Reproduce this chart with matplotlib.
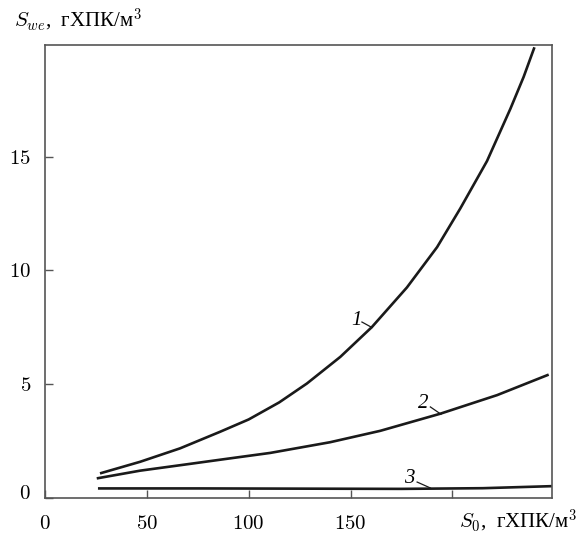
import numpy as np
import matplotlib
matplotlib.use("Agg")
import matplotlib.pyplot as plt
from matplotlib.transforms import ScaledTranslation

plt.rcParams['mathtext.fontset'] = 'cm'
plt.rcParams['font.family'] = ['Liberation Serif', 'DejaVu Serif']

# curve 1
x1 = [27, 46.7, 66.3, 86, 100, 115, 128.6, 145, 160.5, 177.7, 192.5, 203.9, 217, 228.5, 235, 240.3]
y1 = [1.08, 1.59, 2.18, 2.91, 3.45, 4.2, 5.03, 6.2, 7.51, 9.25, 11.02, 12.72, 14.8, 17.1, 18.5, 19.8]
# curve 2
x2 = [25.4, 46.7, 71.3, 90, 110.6, 140, 164.6, 194, 222, 247.3]
y2 = [0.86, 1.2, 1.5, 1.73, 1.98, 2.45, 2.95, 3.7, 4.52, 5.42]
# curve 3
x3 = [26, 75, 125, 175, 215, 249]
y3 = [0.42, 0.42, 0.41, 0.40, 0.43, 0.52]

xticks = [0, 50, 100, 150, 200]
xticklabels = ["0", "50", "100", "150", ""]
yticks = [0, 5, 10, 15]

# curve labels: (text, text pos, leader start, leader end)
labels = [
    ("1", (152.8, 7.8), (155.6, 7.73), (160.5, 7.49)),
    ("2", (185.6, 4.15), (189.2, 4.0), (194.4, 3.68)),
    ("3", (179.0, 0.86), (182.7, 0.70), (189.2, 0.44)),
]

fig = plt.figure(figsize=(5.8, 5.39), dpi=100)
ax = fig.add_axes([0.0776, 0.0761, 0.8744, 0.8404])

for xs, ys in [(x1, y1), (x2, y2), (x3, y3)]:
    ax.plot(xs, ys, color='#1a1a1a', lw=1.9, solid_capstyle='butt', solid_joinstyle='round')

for txt, tp, p0, p1 in labels:
    ax.text(tp[0], tp[1], txt, fontsize=15, fontstyle='italic',
            ha='center', va='center')
    ax.plot([p0[0], p1[0]], [p0[1], p1[1]], color='#1a1a1a', lw=0.9)

ax.set_xlim(0, 249)
ax.set_ylim(0, 19.9)
ax.set_xticks(xticks)
ax.set_xticklabels(["$%s$" % t if t else "" for t in xticklabels])
ax.set_yticks(yticks)
ax.set_yticklabels(["$%d$" % v for v in yticks])
ax.tick_params(direction='in', length=6, width=1.0, color='#555555',
               labelsize=15, pad=10)
ax.tick_params(axis='x', pad=12)
for s in ax.spines.values():
    s.set_color('#555555')
    s.set_linewidth(1.2)

# lift the "0" on the y axis a little, as in the original
lab0 = ax.get_yticklabels()[0]
lab0.set_transform(lab0.get_transform() + ScaledTranslation(0, 0.06, fig.dpi_scale_trans))

fig.text(0.025, 0.963, r"$S_{we}$,  гХПК/м$^3$", fontsize=15, ha='left', va='center')
fig.text(0.995, 0.033, r"$S_0$,  гХПК/м$^3$", fontsize=15, ha='right', va='center')

fig.savefig("out.png", dpi=100)
